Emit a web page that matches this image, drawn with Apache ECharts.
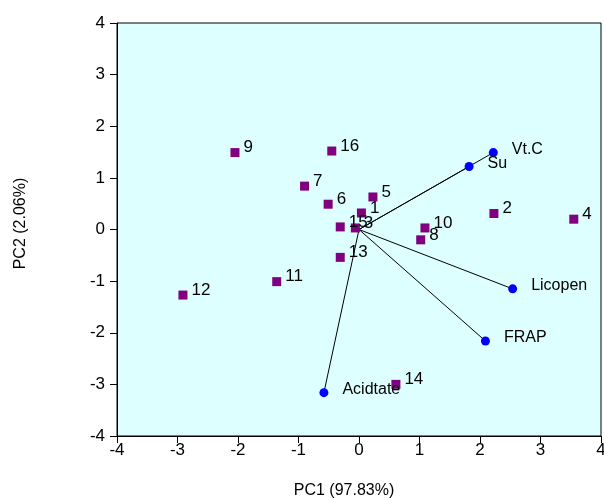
<!DOCTYPE html>
<html>
<head>
<meta charset="utf-8">
<script src="https://cdn.jsdelivr.net/npm/echarts@6/dist/echarts.min.js"></script>
<style>
  html, body { margin: 0; padding: 0; background: #fff; }
  #main { width: 604px; height: 499px; }
</style>
</head>
<body>
<div id="main"></div>
<script>
// sample scores
var sampleNames = ['1','2','3','4','5','6','7','8','9','10','11','12','13','14','15','16'];
var sampleX = [0.04, 2.23, -0.06, 3.55, 0.23, -0.51, -0.90, 1.02, -2.05, 1.09, -1.36, -2.91, -0.31, 0.61, -0.31, -0.45];
var sampleY = [0.32, 0.31, 0.03, 0.20, 0.63, 0.49, 0.84, -0.20, 1.49, 0.03, -1.01, -1.27, -0.54, -3.00, 0.05, 1.52];

// variable loadings
var varNames = ['Vt.C', 'Su', 'Licopen', 'FRAP', 'Acidtate'];
var varX = [2.22, 1.82, 2.54, 2.09, -0.58];
var varY = [1.49, 1.22, -1.15, -2.16, -3.16];

var ticks = [-4, -3, -2, -1, 0, 1, 2, 3, 4];

var font = 'Arial, "Liberation Sans", sans-serif';
var myChart = echarts.init(document.getElementById('main'));

var series = [];
// vectors from origin
varNames.forEach(function (n, i) {
    series.push({
        type: 'line',
        data: [[0, 0], [varX[i], varY[i]]],
        symbol: 'none',
        silent: true,
        lineStyle: { color: '#000', width: 1 },
        z: 2
    });
});
series.push({
    type: 'scatter',
    symbol: 'rect',
    symbolSize: 9,
    itemStyle: { color: '#800080', opacity: 1 },
    data: sampleNames.map(function (n, i) { return { value: [sampleX[i], sampleY[i]], name: n }; }),
    label: {
        show: true, position: 'right', distance: 4, offset: [0, -5],
        formatter: '{b}', color: '#000', fontSize: 17, fontFamily: font
    },
    z: 3
});
series.push({
    type: 'scatter',
    symbol: 'circle',
    symbolSize: 9,
    itemStyle: { color: '#0000ff', opacity: 1 },
    data: varNames.map(function (n, i) { return { value: [varX[i], varY[i]], name: n }; }),
    label: {
        show: true, position: 'right', distance: 14, offset: [0, -3],
        formatter: '{b}', color: '#000', fontSize: 16, fontFamily: font
    },
    z: 4
});

var option = {
    animation: false,
    grid: {
        left: 117, top: 23, right: 3, bottom: 63,
        outerBoundsMode: 'none', containLabel: false,
        show: true, backgroundColor: '#DDFFFF', borderColor: '#000', borderWidth: 1
    },
    xAxis: {
        type: 'value', min: ticks[0], max: ticks[ticks.length - 1], interval: 1,
        name: 'PC1 (97.83%)', nameLocation: 'middle', nameGap: 47,
        nameTextStyle: { fontSize: 16, color: '#000', fontFamily: font, padding: [0, 30, 0, 0] },
        axisLine: { show: true, onZero: false, lineStyle: { color: '#000', width: 1 } },
        axisTick: { show: true, inside: false, length: 7, lineStyle: { color: '#000' } },
        axisLabel: { fontSize: 17, color: '#000', fontFamily: font, margin: 6 },
        splitLine: { show: false }
    },
    yAxis: {
        type: 'value', min: ticks[0], max: ticks[ticks.length - 1], interval: 1,
        name: 'PC2 (2.06%)', nameLocation: 'middle', nameGap: 88, nameRotate: 90,
        nameTextStyle: { fontSize: 16, color: '#000', fontFamily: font, padding: [0, 0, 0, 12] },
        axisLine: { show: true, onZero: false, lineStyle: { color: '#000', width: 1 } },
        axisTick: { show: true, inside: false, length: 7, lineStyle: { color: '#000' } },
        axisLabel: { fontSize: 17, color: '#000', fontFamily: font, margin: 12 },
        splitLine: { show: false }
    },
    series: series
};
myChart.setOption(option);
</script>
</body>
</html>
